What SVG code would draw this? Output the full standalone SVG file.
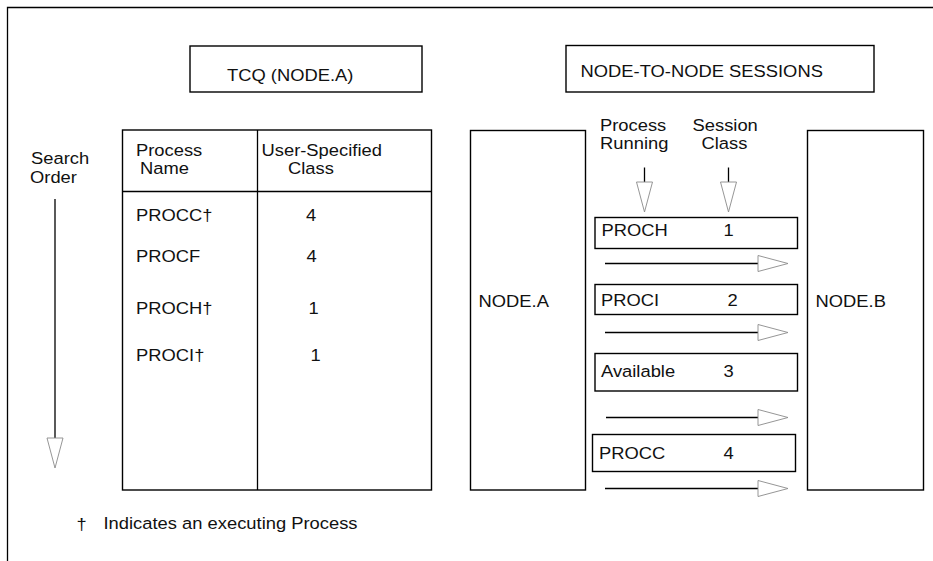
<svg xmlns="http://www.w3.org/2000/svg" width="933" height="561" viewBox="0 0 933 561">
<style>
  .t { font-family: "Liberation Sans", Arial, sans-serif; font-size: 17px; fill: #111; }
  .box { fill: #fff; stroke: #000; stroke-width: 1.4; }
  .ln { stroke: #000; stroke-width: 1.3; fill: none; }
</style>
<defs>
  <marker id="openTri" markerUnits="userSpaceOnUse" markerWidth="34" markerHeight="20" viewBox="-1 -10 34 20" refX="0" refY="0" orient="auto">
    <path d="M0,-8 L30,0 L0,8 Z" fill="#fff" stroke="#8a8a8a" stroke-width="0.9"/>
  </marker>
</defs>
<rect width="933" height="561" fill="#fff"/>

<g id="frame">
  <path class="ln" d="M7.5,561 V7.5 H933"/>
</g>

<g id="tcq-title">
  <rect class="box" x="190" y="46" width="232" height="46"/>
  <text class="t" transform="translate(227 81) scale(1.08 1)">TCQ (NODE.A)</text>
</g>

<g id="sessions-title">
  <rect class="box" x="566" y="45.5" width="308" height="46.5"/>
  <text class="t" transform="translate(580.5 77) scale(1.08 1)">NODE-TO-NODE SESSIONS</text>
</g>

<g id="search-order">
  <text class="t" transform="translate(31 164) scale(1.08 1)">Search</text>
  <text class="t" transform="translate(30 182.5) scale(1.08 1)">Order</text>
</g>

<g id="tcq-table">
  <rect class="box" x="122.5" y="130" width="309" height="360"/>
  <line class="ln" x1="257.5" y1="130" x2="257.5" y2="490"/>
  <line class="ln" x1="122.5" y1="191.5" x2="431.5" y2="191.5"/>
  <text class="t" transform="translate(136 156) scale(1.08 1)">Process</text>
  <text class="t" transform="translate(140 174) scale(1.08 1)">Name</text>
  <text class="t" transform="translate(261.5 156) scale(1.08 1)">User-Specified</text>
  <text class="t" transform="translate(288 174) scale(1.08 1)">Class</text>
  <text class="t" transform="translate(136 221) scale(1.08 1)">PROCC†</text>
  <text class="t" transform="translate(306 221) scale(1.08 1)">4</text>
  <text class="t" transform="translate(136 262) scale(1.08 1)">PROCF</text>
  <text class="t" transform="translate(306.5 262) scale(1.08 1)">4</text>
  <text class="t" transform="translate(136 313.5) scale(1.08 1)">PROCH†</text>
  <text class="t" transform="translate(308.5 313.5) scale(1.08 1)">1</text>
  <text class="t" transform="translate(136 360.5) scale(1.08 1)">PROCI†</text>
  <text class="t" transform="translate(310.5 360.5) scale(1.08 1)">1</text>
</g>

<g id="node-a">
  <rect class="box" x="470.5" y="130.5" width="115" height="359.5"/>
  <text class="t" transform="translate(478.5 307) scale(1.08 1)">NODE.A</text>
</g>

<g id="node-b">
  <rect class="box" x="807.5" y="130.5" width="116" height="359.5"/>
  <text class="t" transform="translate(815.5 307) scale(1.08 1)">NODE.B</text>
</g>

<g id="session-headers">
  <text class="t" transform="translate(600 131) scale(1.08 1)">Process</text>
  <text class="t" transform="translate(600 149) scale(1.08 1)">Running</text>
  <text class="t" transform="translate(692.5 131) scale(1.08 1)">Session</text>
  <text class="t" transform="translate(701.5 149) scale(1.08 1)">Class</text>
</g>

<g id="session-1">
  <rect class="box" x="595" y="217.5" width="202.5" height="31"/>
  <text class="t" transform="translate(601.5 236) scale(1.08 1)">PROCH</text>
  <text class="t" transform="translate(723.5 236) scale(1.08 1)">1</text>
</g>
<g id="session-2">
  <rect class="box" x="595" y="284.5" width="202.5" height="30"/>
  <text class="t" transform="translate(601 305.5) scale(1.08 1)">PROCI</text>
  <text class="t" transform="translate(727.5 305.5) scale(1.08 1)">2</text>
</g>
<g id="session-3">
  <rect class="box" x="595" y="353.5" width="202.5" height="37.5"/>
  <text class="t" transform="translate(601 377) scale(1.08 1)">Available</text>
  <text class="t" transform="translate(723.5 377) scale(1.08 1)">3</text>
</g>
<g id="session-4">
  <rect class="box" x="592.5" y="434.5" width="203" height="37"/>
  <text class="t" transform="translate(599 459) scale(1.08 1)">PROCC</text>
  <text class="t" transform="translate(723.5 459) scale(1.08 1)">4</text>
</g>

<g id="connectors">
  <line class="ln" x1="55" y1="199" x2="55" y2="438" marker-end="url(#openTri)"/>
  <line class="ln" x1="644.5" y1="167.5" x2="644.5" y2="182" marker-end="url(#openTri)"/>
  <line class="ln" x1="728.5" y1="167.5" x2="728.5" y2="182" marker-end="url(#openTri)"/>
  <line class="ln" x1="605" y1="263.5" x2="758" y2="263.5" marker-end="url(#openTri)"/>
  <line class="ln" x1="605" y1="332.5" x2="758" y2="332.5" marker-end="url(#openTri)"/>
  <line class="ln" x1="606" y1="417.5" x2="758" y2="417.5" marker-end="url(#openTri)"/>
  <line class="ln" x1="605" y1="488.5" x2="758" y2="488.5" marker-end="url(#openTri)"/>
</g>

<g id="footnote">
  <text class="t" transform="translate(76.5 530) scale(1.08 1)">†</text>
  <text class="t" transform="translate(103.5 529) scale(1.08 1)">Indicates an executing Process</text>
</g>
</svg>
